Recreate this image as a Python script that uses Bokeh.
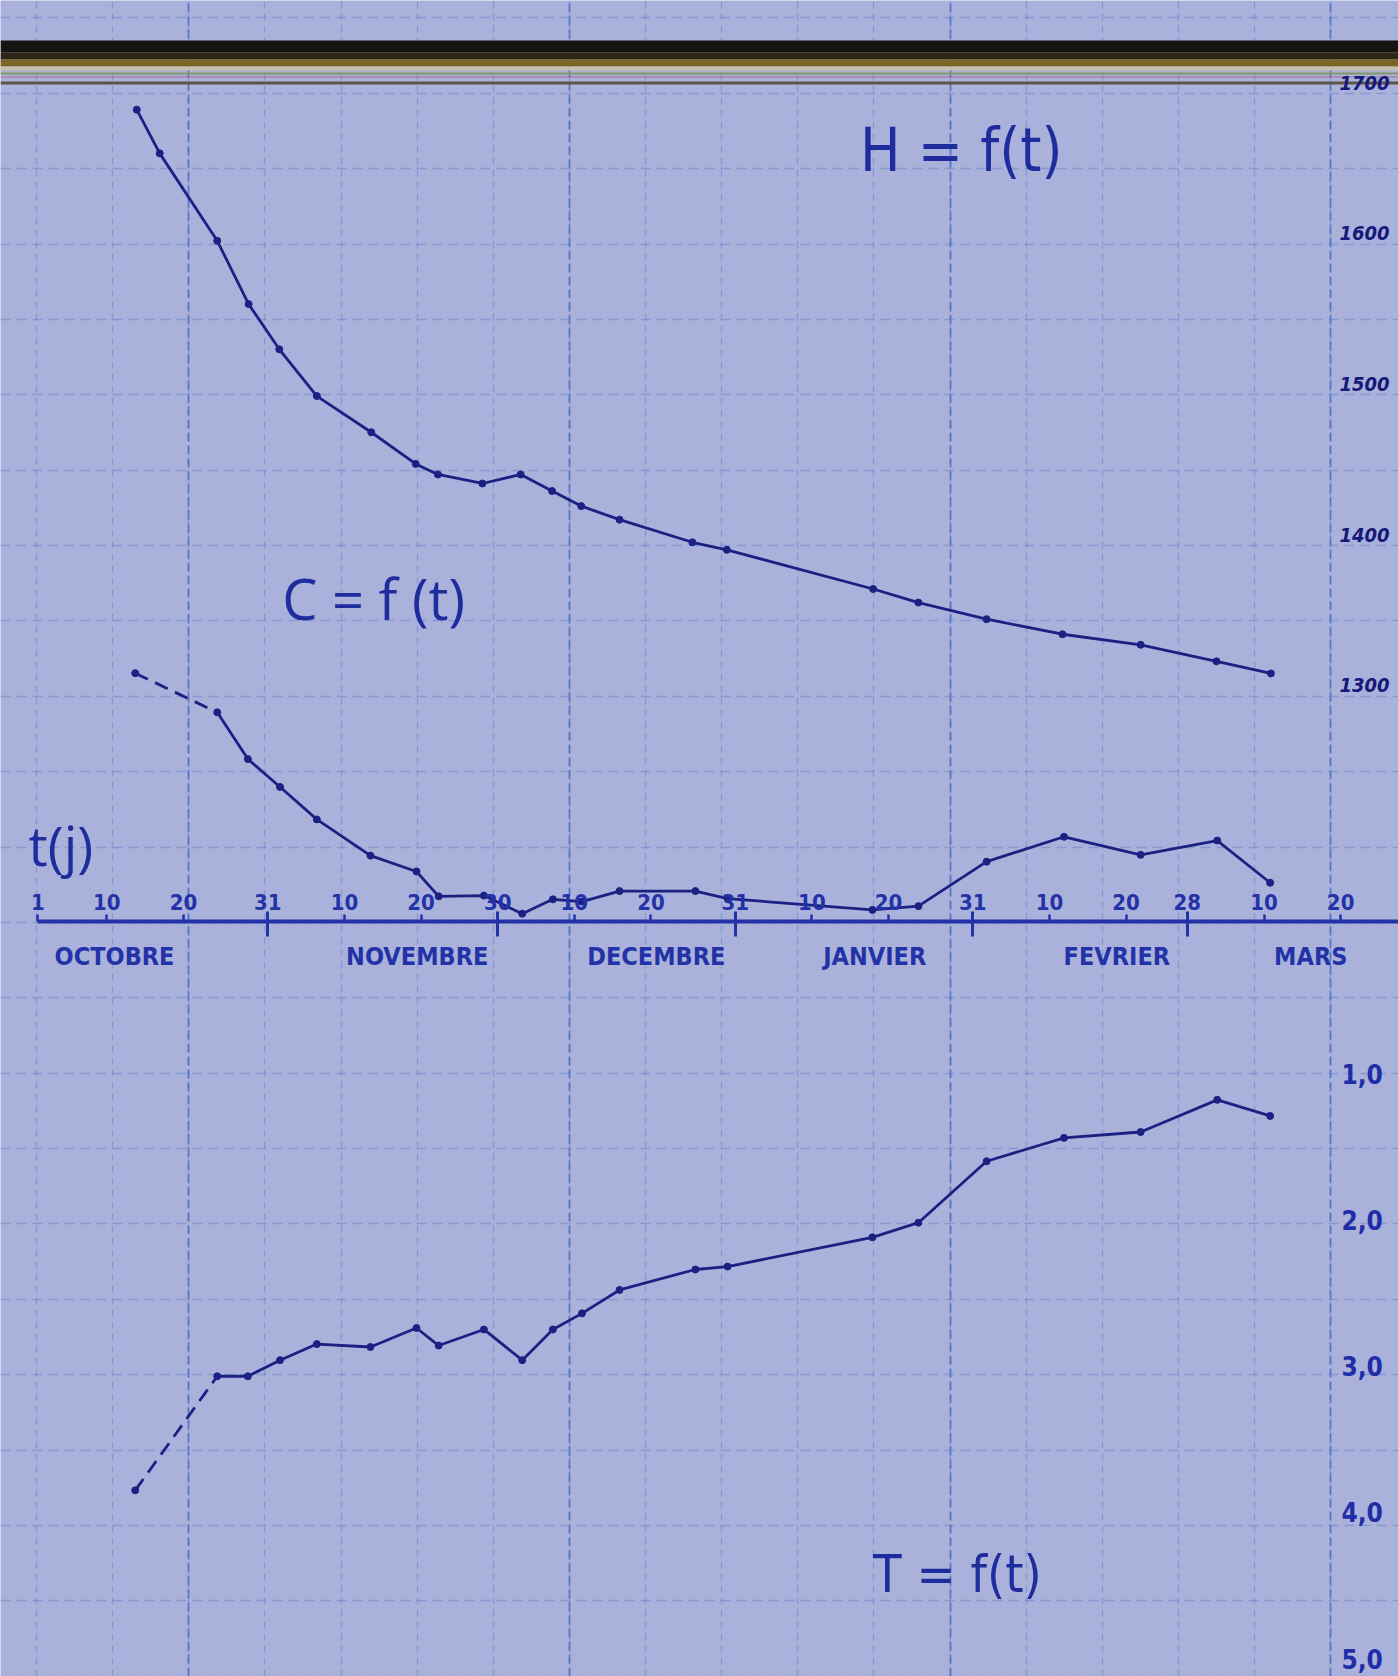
from bokeh.plotting import figure
from bokeh.models import Range1d, LinearAxis, FixedTicker, Grid, BoxAnnotation, Label
from bokeh.embed import file_html
from bokeh.resources import INLINE

# ---------------- data ----------------
# day number counted from 1 October (1 = 1 Oct, 31 = 31 Oct, 61 = 30 Nov, 92 = 31 Dec, 123 = 31 Jan, 151 = 28 Feb)
h_days = [13.9, 16.9, 24.4, 28.5, 32.5, 37.4, 44.5, 50.3, 53.2, 59.0, 64.0, 68.1, 71.9,
          76.9, 86.4, 90.9, 110.0, 115.9, 124.8, 134.7, 144.9, 154.8, 161.9]
h_values = [1682, 1653, 1595, 1553, 1523, 1492, 1468, 1447, 1440, 1434, 1440, 1429, 1419,
            1410, 1395, 1390, 1364, 1355, 1344, 1334, 1327, 1316, 1308]

ct_days = [13.7, 24.4, 28.4, 32.6, 37.4, 44.4, 50.4, 53.3, 59.2, 64.2, 68.2, 72.0, 76.9,
           86.8, 91.0, 109.9, 115.9, 124.8, 134.9, 144.9, 154.9, 161.8]
c_values = [3.30, 2.78, 2.16, 1.79, 1.36, 0.88, 0.67, 0.34, 0.35, 0.11, 0.30, 0.27, 0.41,
            0.41, 0.31, 0.16, 0.21, 0.80, 1.13, 0.89, 1.08, 0.52]
t_values = [3.85, 3.07, 3.07, 2.96, 2.85, 2.87, 2.74, 2.86, 2.75, 2.96, 2.75, 2.64, 2.48,
            2.34, 2.32, 2.12, 2.02, 1.60, 1.44, 1.40, 1.18, 1.29]

day_ticks = [1, 10, 20, 31, 41, 51, 61, 71, 81, 92, 102, 112, 123, 133, 143, 151, 161, 171]
day_tick_labels = ["1", "10", "20", "31", "10", "20", "30", "10", "20", "31",
                   "10", "20", "31", "10", "20", "28", "10", "20"]
month_end_days = [31, 61, 92, 123, 151]
month_names = ["OCTOBRE", "NOVEMBRE", "DECEMBRE", "JANVIER", "FEVRIER", "MARS"]
month_name_days = [11.0, 50.5, 81.7, 110.2, 141.8, 167.1]

h_ticks = [1300, 1400, 1500, 1600, 1700]
t_ticks = [1.0, 2.0, 3.0, 4.0, 5.0]
t_tick_labels = ["1,0", "2,0", "3,0", "4,0", "5,0"]

# ---------------- style ----------------
BG = "#aab2db"
GRID_COL = "#5f82cc"
INK = "#1b2183"
AXIS_INK = "#2432a8"
TEXT_INK = "#1f2c9e"
NARROW = "DejaVu Sans Condensed, DejaVu Sans, sans-serif"

W, H = 1398, 1676
X_RANGE = (-3.88, 178.55)
H_RANGE = (642.6, 1754.4)
C_RANGE = (-10.007, 12.221)
T_RANGE = (5.123, -6.337)   # inverted: 1,0 at top, 5,0 at bottom
RIGHT_AXIS_AT = 169.8

p = figure(width=W, height=H, x_range=Range1d(*X_RANGE), y_range=Range1d(*H_RANGE),
           output_backend="svg", toolbar_location=None, min_border=0,
           x_axis_location=None, y_axis_location=None,
           background_fill_color=BG, border_fill_color=BG, outline_line_color=None)
p.xgrid.grid_line_color = None
p.ygrid.grid_line_color = None
p.extra_y_ranges = {"C": Range1d(*C_RANGE), "T": Range1d(*T_RANGE)}

# graph-paper grid
gx0, gdx = 0.817, 9.935
vx = [gx0 + k * gdx for k in range(0, 19)]
vx_major = [gx0 + k * gdx for k in (2, 7, 12, 17)]
gy0, gdy = 1042.8, 50.0
hy = [gy0 + k * gdy for k in range(-8, 15)]
p.add_layout(Grid(dimension=0, ticker=FixedTicker(ticks=vx), grid_line_color=GRID_COL,
                  grid_line_alpha=0.5, grid_line_width=1.3, grid_line_dash="7 5"))
p.add_layout(Grid(dimension=0, ticker=FixedTicker(ticks=vx_major), grid_line_color="#3a62bd",
                  grid_line_alpha=0.7, grid_line_width=1.8, grid_line_dash="9 4"))
p.add_layout(Grid(dimension=1, ticker=FixedTicker(ticks=hy), grid_line_color=GRID_COL,
                  grid_line_alpha=0.5, grid_line_width=1.3, grid_line_dash="10 6"))

# dark strip across the top of the sheet
for top, bottom, col in [(40, 52, "#161512"), (52, 59, "#2e2718"), (59, 66, "#7c6527"),
                         (66, 70, "#c9bfae"), (72, 74, "#7f9a64"), (76, 77, "#b06a86"),
                         (81, 84, "#5d5446")]:
    p.add_layout(BoxAnnotation(top=top, bottom=bottom, top_units="canvas", bottom_units="canvas",
                               fill_color=col, fill_alpha=1.0, line_color=None, level="underlay"))

# ---------------- curves ----------------
p.line(h_days, h_values, line_color=INK, line_width=2.8)
p.scatter(h_days, h_values, size=7, color=INK)

p.line(ct_days[1:], c_values[1:], y_range_name="C", line_color=INK, line_width=2.8)
p.line(ct_days[:2], c_values[:2], y_range_name="C", line_color=INK, line_width=2.8, line_dash="14 8")
p.scatter(ct_days, c_values, y_range_name="C", size=7, color=INK)

p.line(ct_days[1:], t_values[1:], y_range_name="T", line_color=INK, line_width=2.8)
p.line(ct_days[:2], t_values[:2], y_range_name="T", line_color=INK, line_width=2.8, line_dash="14 8")
p.scatter(ct_days, t_values, y_range_name="T", size=7, color=INK)

# ---------------- time axis t(j) ----------------
ax_days = LinearAxis(y_range_name="C", fixed_location=0, bounds=(1, X_RANGE[1]),
                     ticker=FixedTicker(ticks=day_ticks),
                     major_label_overrides={d: s for d, s in zip(day_ticks, day_tick_labels)},
                     axis_line_color=AXIS_INK, axis_line_width=4,
                     major_tick_line_color=AXIS_INK, major_tick_line_width=2.5,
                     major_tick_in=0, major_tick_out=7, minor_tick_line_color=None,
                     major_label_standoff=5, major_label_text_color=AXIS_INK,
                     major_label_text_font=NARROW, major_label_text_font_style="bold",
                     major_label_text_font_size="22px")
p.add_layout(ax_days, "above")

ax_month_ends = LinearAxis(y_range_name="C", fixed_location=0,
                           ticker=FixedTicker(ticks=month_end_days),
                           major_label_overrides={d: "" for d in month_end_days},
                           axis_line_color=None, major_tick_line_color=AXIS_INK,
                           major_tick_line_width=3, major_tick_in=10, major_tick_out=15,
                           minor_tick_line_color=None)
p.add_layout(ax_month_ends, "below")

ax_months = LinearAxis(y_range_name="C", fixed_location=0,
                       ticker=FixedTicker(ticks=month_name_days),
                       major_label_overrides={d: s for d, s in zip(month_name_days, month_names)},
                       axis_line_color=None, major_tick_line_color=None, minor_tick_line_color=None,
                       major_tick_in=0, major_tick_out=0, major_label_standoff=20,
                       major_label_text_color=AXIS_INK, major_label_text_font=NARROW,
                       major_label_text_font_style="bold", major_label_text_font_size="25px")
p.add_layout(ax_months, "below")

# ---------------- right-hand scales (H and T) ----------------
ax_h = LinearAxis(fixed_location=RIGHT_AXIS_AT, ticker=FixedTicker(ticks=h_ticks),
                  axis_line_color=None, major_tick_line_color=None, minor_tick_line_color=None,
                  major_tick_in=0, major_tick_out=0, major_label_standoff=8,
                  major_label_text_color="#15197a", major_label_text_font=NARROW,
                  major_label_text_font_style="bold italic", major_label_text_font_size="20px")
p.add_layout(ax_h, "right")

ax_t = LinearAxis(y_range_name="T", fixed_location=RIGHT_AXIS_AT, ticker=FixedTicker(ticks=t_ticks),
                  major_label_overrides={v: s for v, s in zip(t_ticks, t_tick_labels)},
                  axis_line_color=None, major_tick_line_color=None, minor_tick_line_color=None,
                  major_tick_in=0, major_tick_out=0, major_label_standoff=10,
                  major_label_text_color="#1f2ea8", major_label_text_font=NARROW,
                  major_label_text_font_style="bold", major_label_text_font_size="26px")
p.add_layout(ax_t, "right")

# ---------------- hand-written titles ----------------
p.add_layout(Label(x=121.5, y=1655.0, text="H = f(t)", text_align="center", text_baseline="alphabetic",
                   text_font=NARROW, text_font_size="60px", text_color=TEXT_INK))
p.add_layout(Label(x=44.8, y=1358.2, text="C = f (t)", text_align="center", text_baseline="alphabetic",
                   text_font="Open Sans", text_font_size="56px", text_color=TEXT_INK))
p.add_layout(Label(x=121.0, y=710.6, text="T = f(t)", text_align="center", text_baseline="alphabetic",
                   text_font=NARROW, text_font_size="52px", text_color=TEXT_INK))
p.add_layout(Label(x=4.0, y=1194.0, text="t(j)", text_align="center", text_baseline="alphabetic",
                   text_font="Open Sans", text_font_size="54px", text_color=TEXT_INK))

open("out.html", "w").write(file_html(p, INLINE))
